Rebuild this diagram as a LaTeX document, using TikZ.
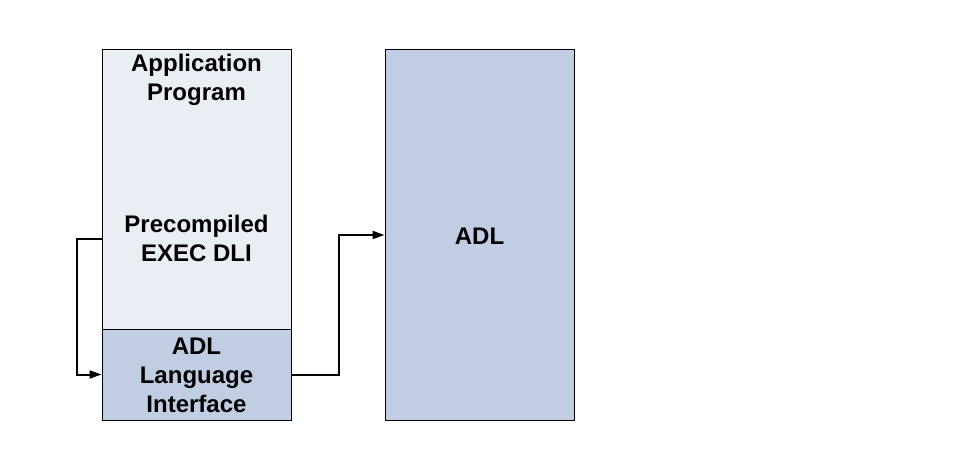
\documentclass[tikz,border=0pt]{standalone}
\usepackage{fontspec}
\setmainfont{Liberation Sans}
\usetikzlibrary{arrows.meta}
\definecolor{lightbox}{HTML}{E9EDF4}
\definecolor{darkbox}{HTML}{C1CDE3}
\begin{document}
\begin{tikzpicture}[x=1pt,y=-1pt,
  box/.style={draw=black,line width=1pt,inner sep=0pt,minimum width=189pt},
  lbl/.style={font=\fontsize{24}{29}\selectfont\bfseries,align=center,inner sep=0pt},
  conn/.style={line width=2pt,-{Triangle[length=12pt,width=8pt]}}]
\useasboundingbox (0,0) rectangle (960,460);
\node[box,fill=lightbox,minimum height=279pt] (app) at (196.5,189.5) {};
\node[box,fill=darkbox,minimum height=91pt] (ali) at (196.5,374.5) {};
\node[box,fill=darkbox,minimum height=370pt] (adl) at (479.5,235) {};
\node[lbl] (apt) at (196.5,79.5) {Application\\Program};
\node[lbl] (pre) at (196.5,238.5) {Precompiled\\EXEC DLI};
\node[lbl] (alit) at (196.5,375.5) {ADL\\Language\\Interface};
\node[lbl] (adlt) at (479.5,236) {ADL};
\draw[conn] (app.west |- pre) -- ++(-25,0) |- (ali.west);
\draw[conn] (ali.east) -- ++(47,0) |- (adl.west);
\end{tikzpicture}
\end{document}
